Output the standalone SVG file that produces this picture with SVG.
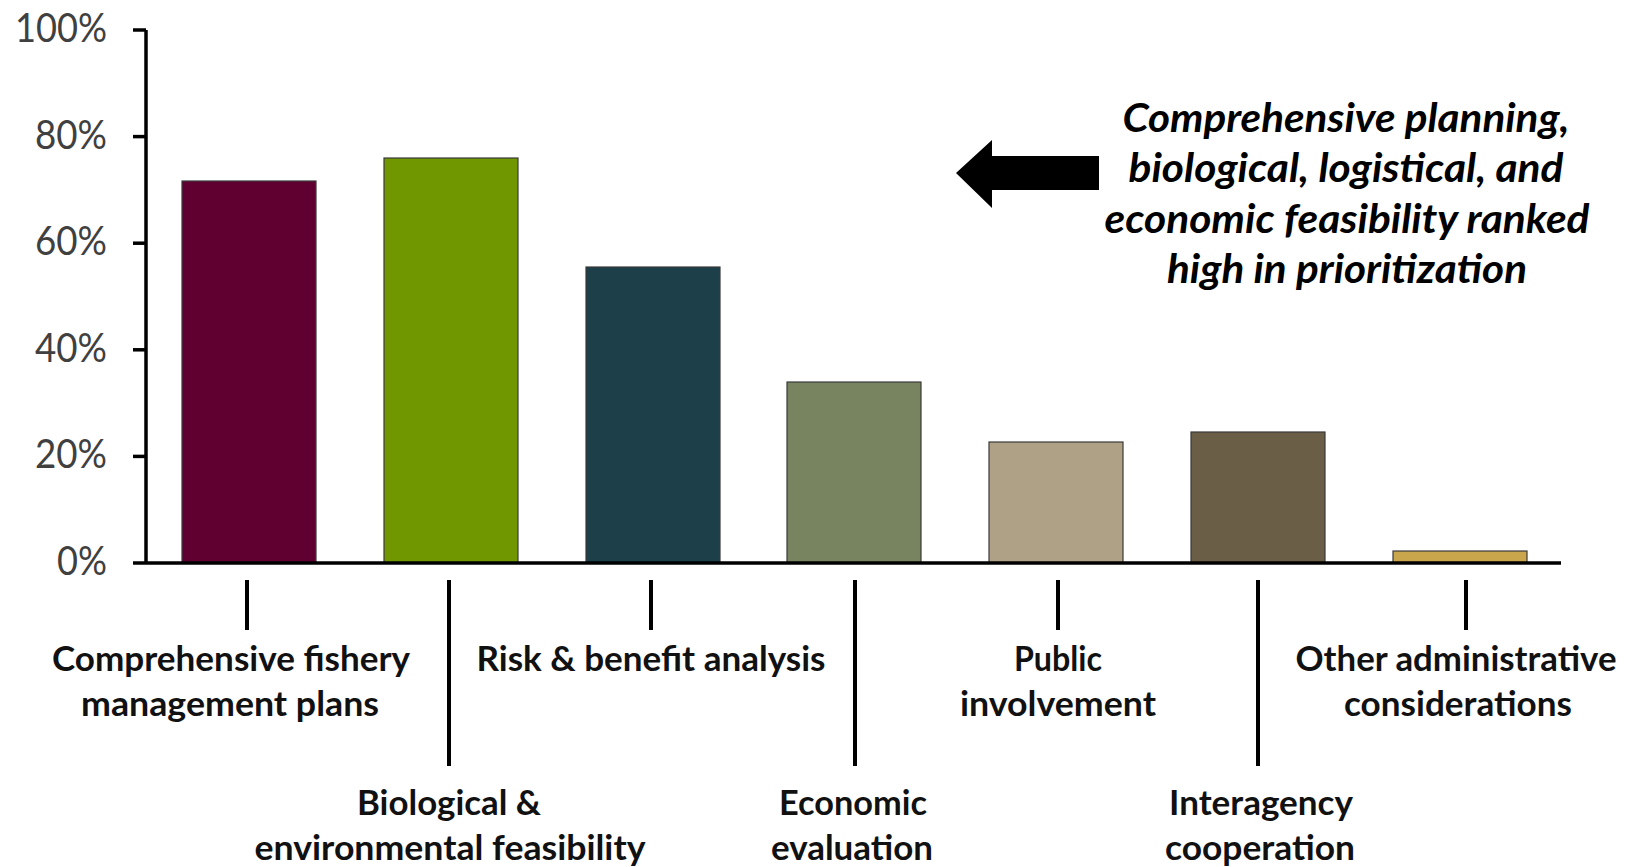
<svg xmlns="http://www.w3.org/2000/svg" width="1625" height="867" viewBox="0 0 1625 867">
<style>
.bg{fill:#ffffff}
.bar{stroke:#3a3a3a;stroke-width:1.2}
.axis{stroke:#000;stroke-width:3.5;fill:none}
.tick{stroke:#000;stroke-width:4;stroke-linecap:butt}
.ylab{font-family:Lato,"Open Sans","Liberation Sans",sans-serif;font-size:40px;fill:#404040;text-anchor:end}
.cat{font-family:Lato,"Open Sans","Liberation Sans",sans-serif;font-size:34px;font-weight:bold;fill:#111;text-anchor:middle}
.note{font-family:Lato,"Open Sans","Liberation Sans",sans-serif;font-size:40px;font-weight:bold;font-style:italic;fill:#000;text-anchor:middle}
</style>
<rect class="bg" x="0" y="0" width="1625" height="867"/>

<g id="y-axis">
  <line class="axis" x1="146" y1="30" x2="146" y2="563"/>
  <line class="axis" x1="133" y1="30" x2="146" y2="30"/>
  <line class="axis" x1="133" y1="136.6" x2="146" y2="136.6"/>
  <line class="axis" x1="133" y1="243.2" x2="146" y2="243.2"/>
  <line class="axis" x1="133" y1="349.8" x2="146" y2="349.8"/>
  <line class="axis" x1="133" y1="456.4" x2="146" y2="456.4"/>
  <text class="ylab" x="107" y="42" textLength="92" lengthAdjust="spacingAndGlyphs">100%</text>
  <text class="ylab" x="107" y="148.6" textLength="72" lengthAdjust="spacingAndGlyphs">80%</text>
  <text class="ylab" x="107" y="255.2" textLength="72" lengthAdjust="spacingAndGlyphs">60%</text>
  <text class="ylab" x="107" y="361.8" textLength="72" lengthAdjust="spacingAndGlyphs">40%</text>
  <text class="ylab" x="107" y="468.4" textLength="72" lengthAdjust="spacingAndGlyphs">20%</text>
  <text class="ylab" x="107" y="575" textLength="50" lengthAdjust="spacingAndGlyphs">0%</text>
</g>

<g id="bars">
  <rect id="bar-fishery-plans" class="bar" x="182" y="181" width="134" height="382" fill="#600030"/>
  <rect id="bar-biological" class="bar" x="384" y="158" width="134" height="405" fill="#709700"/>
  <rect id="bar-risk" class="bar" x="586" y="267" width="134" height="296" fill="#1c3f4a"/>
  <rect id="bar-economic" class="bar" x="787" y="382" width="134" height="181" fill="#77845f"/>
  <rect id="bar-public" class="bar" x="989" y="442" width="134" height="121" fill="#aea186"/>
  <rect id="bar-interagency" class="bar" x="1191" y="432" width="134" height="131" fill="#6a5e47"/>
  <rect id="bar-other" class="bar" x="1393" y="551" width="134" height="12" fill="#c9a54c"/>
</g>

<g id="x-axis">
  <line class="axis" x1="133" y1="563" x2="1561" y2="563" stroke-width="4"/>
</g>

<g id="connectors">
  <line class="tick" x1="247" y1="580" x2="247" y2="630"/>
  <line class="tick" x1="449" y1="580" x2="449" y2="766"/>
  <line class="tick" x1="651" y1="580" x2="651" y2="630"/>
  <line class="tick" x1="855" y1="580" x2="855" y2="766"/>
  <line class="tick" x1="1058" y1="580" x2="1058" y2="630"/>
  <line class="tick" x1="1258" y1="580" x2="1258" y2="766"/>
  <line class="tick" x1="1466" y1="580" x2="1466" y2="630"/>
</g>

<g id="label-fishery-plans">
  <text class="cat" x="231" y="671" textLength="358" lengthAdjust="spacingAndGlyphs">Comprehensive fishery</text>
  <text class="cat" x="230" y="716" textLength="298" lengthAdjust="spacingAndGlyphs">management plans</text>
</g>
<g id="label-biological">
  <text class="cat" x="449" y="815" textLength="184" lengthAdjust="spacingAndGlyphs">Biological &amp;</text>
  <text class="cat" x="450" y="860" textLength="391" lengthAdjust="spacingAndGlyphs">environmental feasibility</text>
</g>
<g id="label-risk">
  <text class="cat" x="651" y="671" textLength="349" lengthAdjust="spacingAndGlyphs">Risk &amp; benefit analysis</text>
</g>
<g id="label-economic">
  <text class="cat" x="853" y="815" textLength="148" lengthAdjust="spacingAndGlyphs">Economic</text>
  <text class="cat" x="852" y="860" textLength="162" lengthAdjust="spacingAndGlyphs">evaluation</text>
</g>
<g id="label-public">
  <text class="cat" x="1058" y="671" textLength="88" lengthAdjust="spacingAndGlyphs">Public</text>
  <text class="cat" x="1058" y="716" textLength="196" lengthAdjust="spacingAndGlyphs">involvement</text>
</g>
<g id="label-interagency">
  <text class="cat" x="1261" y="815" textLength="184" lengthAdjust="spacingAndGlyphs">Interagency</text>
  <text class="cat" x="1260" y="860" textLength="190" lengthAdjust="spacingAndGlyphs">cooperation</text>
</g>
<g id="label-other">
  <text class="cat" x="1456" y="671" textLength="321" lengthAdjust="spacingAndGlyphs">Other administrative</text>
  <text class="cat" x="1458" y="716" textLength="228" lengthAdjust="spacingAndGlyphs">considerations</text>
</g>

<g id="callout-arrow">
  <polygon points="956,173 992,140 992,156 1099,156 1099,190 992,190 992,208" fill="#000"/>
</g>
<g id="callout-text">
  <text class="note" x="1346" y="132" textLength="447" lengthAdjust="spacingAndGlyphs">Comprehensive planning,</text>
  <text class="note" x="1346" y="182" textLength="435" lengthAdjust="spacingAndGlyphs">biological, logistical, and</text>
  <text class="note" x="1347" y="233" textLength="485" lengthAdjust="spacingAndGlyphs">economic feasibility ranked</text>
  <text class="note" x="1347" y="283" textLength="360" lengthAdjust="spacingAndGlyphs">high in prioritization</text>
</g>
</svg>
